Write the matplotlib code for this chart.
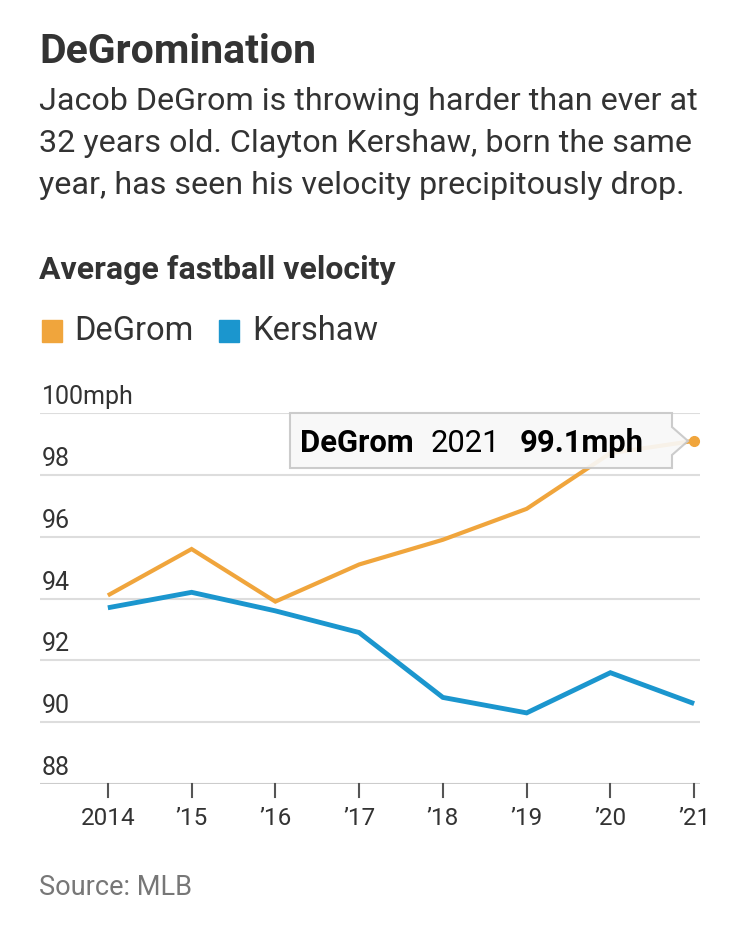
import matplotlib
matplotlib.use("Agg")
import matplotlib.pyplot as plt
from matplotlib.patches import Rectangle, Polygon

plt.rcParams['font.family'] = ['Roboto', 'DejaVu Sans']

years = [2014, 2015, 2016, 2017, 2018, 2019, 2020, 2021]
year_labels = ['2014', "\u201915", "\u201916", "\u201917", "\u201918", "\u201919", "\u201920", "\u201921"]
degrom = [94.1, 95.6, 93.9, 95.1, 95.9, 96.9, 98.7, 99.1]
kershaw = [93.7, 94.2, 93.6, 92.9, 90.8, 90.3, 91.6, 90.6]
y_ticks = [88, 90, 92, 94, 96, 98, 100]
y_tick_labels = ['88', '90', '92', '94', '96', '98', '100mph']

ORANGE = '#F0A53C'
BLUE = '#1B96CE'
TEXT = '#333333'
GRID = '#DDDDDD'

W, H = 750, 930
fig = plt.figure(figsize=(W / 100, H / 100), dpi=100)
fig.patch.set_facecolor('white')

def fx(px):
    return px / W

def fy(py):
    return 1 - py / H

fig.text(fx(39), fy(52), 'DeGromination', fontsize=29.5, fontweight='bold', color=TEXT, va='center', ha='left')
sub = ['Jacob DeGrom is throwing harder than ever at',
       '32 years old. Clayton Kershaw, born the same',
       'year, has seen his velocity precipitously drop.']
for i, line in enumerate(sub):
    fig.text(fx(39), fy(102 + 42 * i), line, fontsize=23.2, color=TEXT, va='center', ha='left')
fig.text(fx(39), fy(270), 'Average fastball velocity', fontsize=23, fontweight='bold', color=TEXT, va='center', ha='left')

# legend
fig.patches.append(Rectangle((fx(42), fy(342)), fx(20), 22 / H, transform=fig.transFigure, color=ORANGE, figure=fig))
fig.text(fx(74), fy(331), 'DeGrom', fontsize=23.5, color=TEXT, va='center', ha='left')
fig.patches.append(Rectangle((fx(219), fy(342)), fx(20), 22 / H, transform=fig.transFigure, color=BLUE, figure=fig))
fig.text(fx(252), fy(331), 'Kershaw', fontsize=23.5, color=TEXT, va='center', ha='left')

# axes
left, right, top, bottom = 40, 700, 413, 784
ax = fig.add_axes([fx(left), fy(bottom), (right - left) / W, (bottom - top) / H])
ax.set_xlim(2013.19, 2021.07)
ax.set_ylim(88, 100)
for s in ax.spines.values():
    s.set_visible(False)
ax.set_yticks([])
ax.set_xticks([])
for t, lab in zip(y_ticks, y_tick_labels):
    ax.axhline(t, color='#CCCCCC' if t == 88 else GRID, lw=1.5, zorder=1)
    ax.annotate(lab, xy=(0, t), xycoords=('axes fraction', 'data'),
                xytext=(2, 4), textcoords='offset pixels', fontsize=18, color=TEXT,
                ha='left', va='bottom')

ax.plot(years, degrom, color=ORANGE, lw=3, zorder=3, solid_capstyle='butt', solid_joinstyle='miter')
ax.plot(years, kershaw, color=BLUE, lw=3.5, zorder=3, solid_capstyle='butt', solid_joinstyle='miter')
ax.plot(years[-1], degrom[-1], 'o', color=ORANGE, ms=7, zorder=5, clip_on=False)

# x ticks
for x, lab in zip(years, year_labels):
    ax.plot([x, x], [0, -0.035], transform=ax.get_xaxis_transform(), color='#555555', lw=1.5, clip_on=False)
    ax.annotate(lab, xy=(x, 0), xycoords=('data', 'axes fraction'), xytext=(0, -23),
                textcoords='offset pixels', fontsize=17.5, color=TEXT, ha='center', va='top')

# tooltip
bx0, bx1, by0, by1 = 290, 672, 413, 468
tip_x, tip_y = 688, 441
box = Polygon([(fx(bx0), fy(by0)), (fx(bx1), fy(by0)), (fx(bx1), fy(tip_y - 14)), (fx(tip_x), fy(tip_y)),
               (fx(bx1), fy(tip_y + 14)), (fx(bx1), fy(by1)), (fx(bx0), fy(by1))],
              closed=True, transform=fig.transFigure, facecolor='#F8F8F8', edgecolor='#C8C8C8',
              lw=1.5, alpha=0.92, zorder=10, figure=fig)
fig.patches.append(box)

fig.canvas.draw()
r = fig.canvas.get_renderer()
xcur = 300
parts = [('DeGrom', 'bold', 17), ('2021', 'normal', 19), ('99.1mph', 'bold', 0)]
for txt, wt, gap in parts:
    t = fig.text(fx(xcur), fy(443), txt, fontsize=22.3, fontweight=wt, color='black', va='center', ha='left', zorder=11)
    bb = t.get_window_extent(r)
    xcur += bb.width + gap

fig.text(fx(39), fy(887), 'Source: MLB', fontsize=19.5, color='#777777', va='center', ha='left')

fig.savefig('out.png', dpi=100, facecolor='white')
